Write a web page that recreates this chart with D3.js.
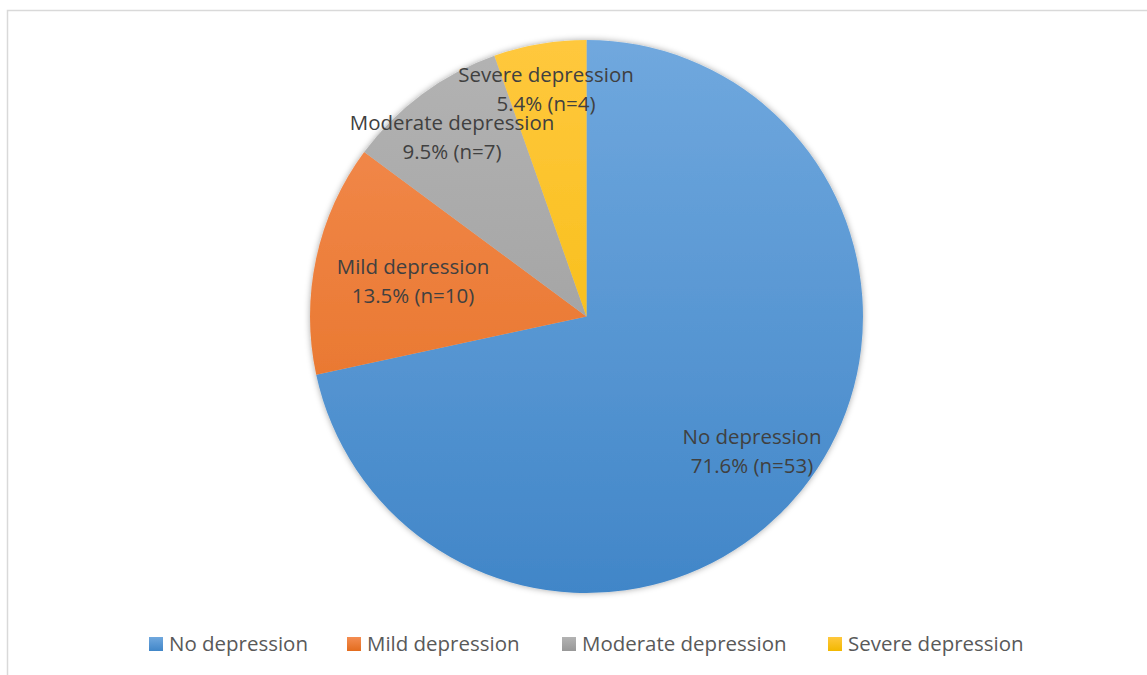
<!DOCTYPE html>
<html><head><meta charset="utf-8">
<script src="https://cdn.jsdelivr.net/npm/d3@7"></script>
<style>html,body{margin:0;padding:0;background:#fff;overflow:hidden}</style>
</head><body>
<svg id="chart" width="1147" height="675"></svg>
<script>
const categories = ["No depression", "Mild depression", "Moderate depression", "Severe depression"];
const counts = [53, 10, 7, 4];
const percents = ["71.6%", "13.5%", "9.5%", "5.4%"];
const colorsTop = ["#70a8de", "#f48d52", "#b3b3b3", "#ffc83d"];
const colorsBottom = ["#4186c8", "#e36c1e", "#989898", "#f2b800"];

const svg = d3.select("#chart");
const cx = 586.5, cy = 316.5, R = 276.5;
const fontFamily = "'Open Sans', 'Noto Sans', sans-serif";

// border
svg.append("rect").attr("x", 7.5).attr("y", 10.5).attr("width", 1200).attr("height", 700)
  .attr("fill", "none").attr("stroke", "#d9d9d9").attr("stroke-width", 1.5);

const defs = svg.append("defs");
categories.forEach((c, i) => {
  const g = defs.append("linearGradient").attr("id", "g" + i)
    .attr("gradientUnits", "userSpaceOnUse")
    .attr("x1", 0).attr("y1", -R).attr("x2", 0).attr("y2", R);
  g.append("stop").attr("offset", "0%").attr("stop-color", colorsTop[i]);
  g.append("stop").attr("offset", "100%").attr("stop-color", colorsBottom[i]);
  const lg = defs.append("linearGradient").attr("id", "lg" + i)
    .attr("x1", 0).attr("y1", 0).attr("x2", 0).attr("y2", 1);
  lg.append("stop").attr("offset", "0%").attr("stop-color", colorsTop[i]);
  lg.append("stop").attr("offset", "100%").attr("stop-color", colorsBottom[i]);
});
const f = defs.append("filter").attr("id", "sh").attr("x", "-10%").attr("y", "-10%").attr("width", "120%").attr("height", "120%");
f.append("feDropShadow").attr("dx", 0).attr("dy", 0).attr("stdDeviation", 3)
  .attr("flood-color", "#000").attr("flood-opacity", 0.35);

// font size calibration: legend/label "No depression" ≈ 139px wide
const probe = svg.append("text").attr("font-family", fontFamily).attr("font-size", 100).text("No depression");
const fs = 100 * 139 / probe.node().getComputedTextLength();
probe.remove();

const pie = d3.pie().sort(null).value(d => d)(counts);
const arc = d3.arc().innerRadius(0).outerRadius(R);

const g = svg.append("g").attr("transform", `translate(${cx},${cy})`);
g.append("g").attr("filter", "url(#sh)")
  .selectAll("path").data(pie).join("path")
  .attr("d", arc)
  .attr("fill", (d, i) => `url(#g${i})`);

// label anchor: centre x and first-line baseline
const labelPos = [[752, 443.5], [413, 273.5], [452, 129.5], [546, 81.5]];
const lineGap = 29.5;
categories.forEach((c, i) => {
  const t = svg.append("text").attr("font-family", fontFamily).attr("font-size", fs)
    .attr("fill", "#404040").attr("text-anchor", "middle");
  t.append("tspan").attr("x", labelPos[i][0]).attr("y", labelPos[i][1]).text(c);
  t.append("tspan").attr("x", labelPos[i][0]).attr("y", labelPos[i][1] + lineGap)
    .text(`${percents[i]} (n=${counts[i]})`);
});

// legend
const legendX = [149, 347, 562, 828];
const leg = svg.append("g");
categories.forEach((c, i) => {
  leg.append("rect").attr("x", legendX[i]).attr("y", 637).attr("width", 14).attr("height", 14)
    .attr("fill", `url(#lg${i})`);
  leg.append("text").attr("x", legendX[i] + 20).attr("y", 651)
    .attr("font-family", fontFamily).attr("font-size", fs).attr("fill", "#595959").text(c);
});
</script>
</body></html>
